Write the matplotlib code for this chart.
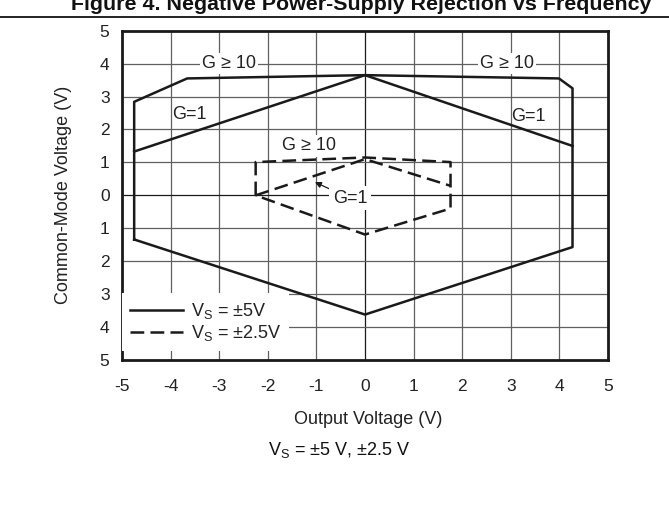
import numpy as np
import matplotlib
matplotlib.use("Agg")
import matplotlib.pyplot as plt
from matplotlib.lines import Line2D

plt.rcParams['font.family'] = ['Liberation Sans', 'DejaVu Sans']
plt.rcParams['mathtext.default'] = 'regular'

# Vs = +/-5V : G >= 10 outline (closed) and G = 1 roof
vs5_x = [-4.75, -4.75, -3.66, 0.0, 3.99, 4.27, 4.27, 0.0, -4.75]
vs5_y = [-1.34, 2.84, 3.55, 3.65, 3.55, 3.25, -1.57, -3.62, -1.34]
vs5_g1_x = [-4.75, 0.0, 4.27]
vs5_g1_y = [1.33, 3.65, 1.50]

# Vs = +/-2.5V : G >= 10 outline (closed) and G = 1 roof
vs25_x = [-2.25, -2.25, 0.0, 1.76, 1.76, 0.0, -2.25]
vs25_y = [0.0, 1.01, 1.15, 1.01, -0.40, -1.19, 0.0]
vs25_g1_x = [-2.25, 0.0, 1.76]
vs25_g1_y = [0.0, 1.10, 0.29]

xticks = [-5, -4, -3, -2, -1, 0, 1, 2, 3, 4, 5]
xtick_labels = ['-5', '-4', '-3', '-2', '-1', '0', '1', '2', '3', '4', '5']
yticks = [5, 4, 3, 2, 1, 0, -1, -2, -3, -4, -5]
ytick_labels = ['5', '4', '3', '2', '1', '0', '1', '2', '3', '4', '5']

fig = plt.figure(figsize=(6.69, 5.08), dpi=100)
ax = fig.add_axes([0.1824, 0.2913, 0.7264, 0.6483])

ax.set_xlim(-5, 5)
ax.set_ylim(-5, 5)
ax.set_xticks(xticks)
ax.set_xticklabels(xtick_labels)
ax.set_yticks(yticks)
ax.set_yticklabels(ytick_labels)
ax.tick_params(axis='both', length=0, labelsize=12.5, colors='#222222')
ax.tick_params(axis='x', pad=14)
ax.tick_params(axis='y', pad=9)

# grid
for v in xticks[1:-1]:
    ax.axvline(v, color='#1a1a1a' if v == 0 else '#606060', lw=0.9, zorder=1)
for v in yticks[1:-1]:
    ax.axhline(v, color='#1a1a1a' if v == 0 else '#606060', lw=0.9, zorder=1)

for s in ax.spines.values():
    s.set_linewidth(2.0)
    s.set_color('#1a1a1a')

lc = '#1a1a1a'
ax.plot(vs5_x, vs5_y, color=lc, lw=1.8, zorder=3, label=r'V$_S$ = ±5V')
ax.plot(vs5_g1_x, vs5_g1_y, color=lc, lw=1.8, zorder=3)
dash = (0, (5.5, 2.5))
ax.plot(vs25_x, vs25_y, color=lc, lw=1.8, ls=dash, zorder=3, label=r'V$_S$ = ±2.5V')
ax.plot(vs25_g1_x, vs25_g1_y, color=lc, lw=1.8, ls=dash, zorder=3)

box = dict(facecolor='white', edgecolor='none', pad=1.5)
tkw = dict(fontsize=13, color='#222222', ha='center', va='center', zorder=4)
ax.text(-2.8, 4.0, 'G ≥ 10', bbox=box, **tkw)
ax.text(2.92, 4.0, 'G ≥ 10', bbox=box, **tkw)
ax.text(-3.62, 2.45, 'G=1', **tkw)
ax.text(3.37, 2.40, 'G=1', **tkw)
ax.text(-1.15, 1.50, 'G ≥ 10', bbox=box, **tkw)
ax.annotate('G=1', xy=(-1.03, 0.40), xytext=(-0.31, -0.09),
            bbox=dict(facecolor='white', edgecolor='none', pad=2.5),
            arrowprops=dict(arrowstyle='-|>', color=lc, lw=0.9,
                            mutation_scale=9, shrinkA=0, shrinkB=0),
            **tkw)

leg = ax.legend(loc='lower left', bbox_to_anchor=(0, 0.026), borderaxespad=0.0,
                fontsize=13, handlelength=2.9, handletextpad=0.45,
                labelspacing=0.12, borderpad=0.45, frameon=True,
                facecolor='white', edgecolor='none', framealpha=1,
                fancybox=False)
leg.set_zorder(5)
for t in leg.get_texts():
    t.set_color('#222222')

ax.set_xlabel('Output Voltage (V)', fontsize=13, color='#222222')
ax.xaxis.set_label_coords(0.506, -0.155)
ax.set_ylabel('Common-Mode Voltage (V)', fontsize=13, color='#222222')
ax.yaxis.set_label_coords(-0.121, 0.5)
ax.yaxis.label.set_va('center')

fig.text(0.507, 0.114, r'V$_S$ = ±5 V, ±2.5 V', fontsize=13,
         color='#111111', ha='center', va='center')

fig.text(0.540, 0.981, 'Figure 4. Negative Power-Supply Rejection vs Frequency',
         fontsize=15.4, fontweight='bold', ha='center', va='baseline', color='#111111')
fig.add_artist(Line2D([0, 1], [0.967, 0.967], transform=fig.transFigure,
                      color='#111111', lw=1.3))

fig.savefig('out.png', dpi=100)
